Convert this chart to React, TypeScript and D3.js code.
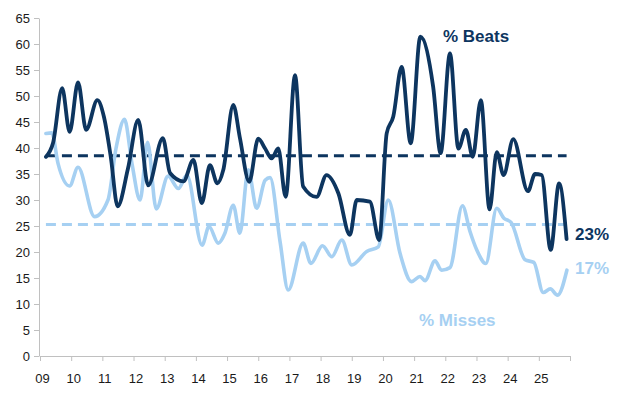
import React, { useEffect, useRef } from "react"
import { scaleLinear, line, curveMonotoneX, axisBottom, axisLeft, select, range } from "d3"

/** % of companies beating, by decimal year */
const beats: [number, number][] = [
	[2009.19, 38.3], [2009.42, 41], [2009.71, 51.5], [2009.95, 43.1], [2010.22, 52.6], [2010.48, 43.5],
	[2010.84, 49.2], [2011.05, 46], [2011.27, 38.3], [2011.49, 28.8], [2011.82, 36], [2012.15, 45.4],
	[2012.47, 32.8], [2012.94, 41.9], [2013.17, 35.2], [2013.6, 33.6], [2013.92, 37.7], [2014.19, 29.4],
	[2014.45, 36.7], [2014.69, 33.2], [2014.88, 35.8], [2015.2, 48.3], [2015.41, 42], [2015.71, 33.5],
	[2016.0, 41.8], [2016.22, 39.9], [2016.43, 38.0], [2016.64, 39.9], [2016.88, 30.6], [2017.18, 54.0],
	[2017.44, 32.6], [2017.87, 30.6], [2018.19, 34.8], [2018.57, 31.3], [2018.94, 23.3], [2019.16, 30],
	[2019.58, 29.7], [2019.88, 22.3], [2020.12, 42.8], [2020.33, 46.0], [2020.6, 55.6], [2020.89, 40.9],
	[2021.2, 61.4], [2021.61, 51.8], [2021.85, 39], [2022.15, 58.2], [2022.42, 39.9], [2022.66, 43.5],
	[2022.88, 38.3], [2023.14, 49.2], [2023.42, 28.2], [2023.65, 39.2], [2023.87, 34.8], [2024.18, 41.7],
	[2024.65, 31.7], [2024.88, 35], [2025.09, 34.8], [2025.38, 20.4], [2025.65, 33.2], [2025.89, 22.5],
]

/** % of companies missing, by decimal year */
const misses: [number, number][] = [
	[2009.19, 42.8], [2009.38, 42.9], [2009.58, 37], [2009.95, 32.7], [2010.22, 36.3], [2010.75, 26.8],
	[2011.18, 30], [2011.44, 40], [2011.71, 45.5], [2011.95, 37], [2012.21, 30], [2012.45, 41.1],
	[2012.73, 28.3], [2013.11, 34.6], [2013.44, 32.2], [2013.71, 34.8], [2014.2, 21.3], [2014.42, 24.9],
	[2014.72, 21.7], [2014.93, 23.6], [2015.2, 29], [2015.41, 23.6], [2015.68, 35.8], [2015.95, 28.4],
	[2016.22, 33.8], [2016.38, 34.3], [2016.7, 22], [2016.96, 12.7], [2017.44, 21.7], [2017.69, 17.8],
	[2018.06, 21.2], [2018.36, 19.1], [2018.68, 22.3], [2019.0, 17.5], [2019.48, 20.1], [2019.85, 21],
	[2020.17, 30], [2020.55, 19.7], [2020.92, 14.3], [2021.19, 15.3], [2021.35, 14.5], [2021.67, 18.3],
	[2021.88, 16.5], [2022.15, 17], [2022.55, 28.9], [2022.79, 24], [2023.01, 20.4], [2023.3, 17.8],
	[2023.65, 28.4], [2023.88, 26.5], [2024.11, 25.7], [2024.56, 18.5], [2024.84, 18], [2025.14, 12.2],
	[2025.37, 12.9], [2025.6, 11.7], [2025.9, 16.5],
]

/** long-run averages */
const beatsAverage = 38.5
const missesAverage = 25.3

const yTicks = range(0, 70, 5)
const xTicks = range(2009, 2027)
const xTickLabels = ["09", "10", "11", "12", "13", "14", "15", "16", "17", "18", "19", "20", "21", "22", "23", "24", "25", ""]

const dark = "#0d355f"
const light = "#a6d0f2"
const font = "Liberation Sans, Arial, sans-serif"

export default function App() {
	const width = 624
	const height = 394

	const xScale = scaleLinear().domain([2009, 2026]).range([40, 570])
	const yScale = scaleLinear().domain([0, 65]).range([356, 18])

	const lineGen = line<[number, number]>()
		.x(d => xScale(d[0]))
		.y(d => yScale(d[1]))
		.curve(curveMonotoneX)

	const start = beats[0][0]
	const end = beats[beats.length - 1][0]

	const xAxisRef = useRef<SVGGElement>(null)
	const yAxisRef = useRef<SVGGElement>(null)

	useEffect(() => {
		const g = select(xAxisRef.current!)
		g.call(
			axisBottom(xScale)
				.tickValues(xTicks)
				.tickSize(5)
				.tickSizeOuter(0)
				.tickPadding(13)
				.tickFormat((d, i) => xTickLabels[i])
		)
		g.select(".domain").attr("stroke", "#c0c0c0")
		g.selectAll(".tick line").attr("stroke", "#c0c0c0")
		g.selectAll(".tick text").attr("font-size", 13).attr("font-family", font).attr("fill", "#1a1a1a").attr("dx", 2)
	}, [])

	useEffect(() => {
		const g = select(yAxisRef.current!)
		g.call(axisLeft(yScale).tickValues(yTicks).tickSize(5).tickSizeOuter(0).tickPadding(4))
		g.select(".domain").attr("stroke", "#c0c0c0")
		g.selectAll(".tick line").attr("stroke", "#c0c0c0")
		g.selectAll(".tick text").attr("font-size", 13).attr("font-family", font).attr("fill", "#1a1a1a")
	}, [])

	return (
		<svg width={width} height={height} style={{ position: "absolute", left: 0, top: 0, background: "#fff" }}>
			<g ref={yAxisRef} transform={`translate(39, 0)`} />
			<g ref={xAxisRef} transform={`translate(0, 356)`} />

			<line x1={xScale(start)} x2={xScale(end)} y1={yScale(beatsAverage)} y2={yScale(beatsAverage)}
				stroke={dark} strokeWidth={3} strokeDasharray="10 6" />
			<line x1={xScale(start)} x2={xScale(end)} y1={yScale(missesAverage)} y2={yScale(missesAverage)}
				stroke={light} strokeWidth={3} strokeDasharray="10 6" />

			<path d={lineGen(misses) ?? ""} fill="none" stroke={light} strokeWidth={3.6} strokeLinejoin="round" strokeLinecap="round" />
			<path d={lineGen(beats) ?? ""} fill="none" stroke={dark} strokeWidth={3.8} strokeLinejoin="round" strokeLinecap="round" />

			<g fontFamily={font} fontWeight="bold" fontSize={17}>
				<text x={443} y={42} fill={dark}>% Beats</text>
				<text x={575} y={240} fill={dark}>23%</text>
				<text x={575} y={274} fill={light}>17%</text>
				<text x={419} y={326} fill={light}>% Misses</text>
			</g>
		</svg>
	)
}
